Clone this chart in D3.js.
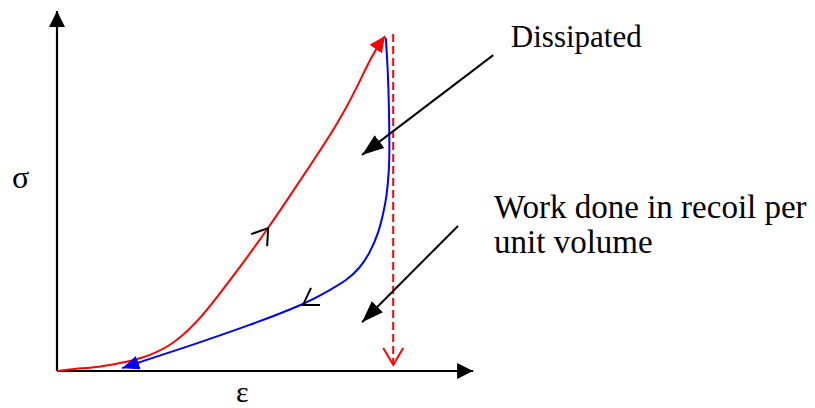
<!DOCTYPE html>
<html>
<head>
<meta charset="utf-8">
<script src="https://cdn.jsdelivr.net/npm/d3@7"></script>
<style>
  html, body { margin: 0; padding: 0; background: #fff; }
  svg text { font-family: "Liberation Serif", "DejaVu Serif", serif; }
</style>
</head>
<body>
<div id="chart"></div>
<script>
// loading curve (strain, stress), arbitrary units
var loadStrain = [0, 3.9, 10.5, 15.4, 20.2, 27.6, 34.1, 39.8, 45.4, 51.5, 56.1, 61.7, 69.0, 73.2, 77.1, 80.0];
var loadStress = [0, 0.6, 1.1, 2.2, 3.3, 6.7, 13.4, 21.7, 30.1, 39.8, 47.6, 57.1, 69.9, 79.1, 88.6, 93.3];
// unloading (recoil) curve
var unloadStrain = [80.2, 80.7, 81.0, 81.1, 81.0, 80.4, 79.6, 78.4, 76.3, 73.9, 70.7, 66.6, 60.0, 47.1, 32.4, 20.2, 15.9];
var unloadStress = [92.8, 83.8, 72.7, 61.6, 56.0, 48.5, 44.0, 38.4, 32.9, 28.7, 25.3, 22.6, 18.4, 12.8, 7.0, 2.5, 0.8];
// dashed drop at max strain
var dropStrain = 82.0;
var dropStress = [93.9, 1.7];
// direction ticks on the curves
var loadTick = [51.5, 39.8];
var unloadTick = [60.0, 18.4];
// labels and pointer arrows
var labels = ["Dissipated", "Work done in recoil per", "unit volume"];
var labelSize = [31, 33, 33];
var labelPos = [[110.7, 90.3], [106.6, 42.6], [106.6, 32.9]];
var pointers = [[[106.4, 88.0], [74.4, 60.2]], [[97.8, 40.4], [74.4, 13.6]]];

function init() {
  var w = 815, h = 408;

  var xScale = d3.scaleLinear().domain([0, 100]).range([57, 467]);
  var yScale = d3.scaleLinear().domain([0, 100]).range([371, 12]);

  var svg = d3.select("#chart").append("svg")
    .attr("width", w).attr("height", h);

  svg.append("rect").attr("width", w).attr("height", h).attr("fill", "#fff");

  var defs = svg.append("defs");
  function marker(id, color, len, wid) {
    defs.append("marker")
      .attr("id", id)
      .attr("markerUnits", "userSpaceOnUse")
      .attr("viewBox", "0 0 " + len + " " + wid)
      .attr("refX", len).attr("refY", wid / 2)
      .attr("markerWidth", len).attr("markerHeight", wid)
      .attr("orient", "auto")
      .append("path")
      .attr("d", "M0,0L" + len + "," + (wid / 2) + "L0," + wid + "Z")
      .attr("fill", color);
  }
  marker("axisHead", "#000", 16, 16);
  marker("redHead", "#f00", 16, 15);
  marker("blueHead", "#00f", 17, 14);
  marker("blackHead", "#000", 22, 16);

  var line = d3.line()
    .x(function(d) { return xScale(d[0]); })
    .y(function(d) { return yScale(d[1]); })
    .curve(d3.curveBasis);

  // axes
  svg.append("line")
    .attr("x1", xScale(0)).attr("y1", yScale(0))
    .attr("x2", xScale(0)).attr("y2", yScale(100) - 1)
    .attr("stroke", "#000").attr("stroke-width", 2.2)
    .attr("marker-end", "url(#axisHead)");
  svg.append("line")
    .attr("x1", xScale(0)).attr("y1", yScale(0))
    .attr("x2", xScale(101.5)).attr("y2", yScale(0))
    .attr("stroke", "#000").attr("stroke-width", 2.2)
    .attr("marker-end", "url(#axisHead)");

  // loading curve
  var loadData = loadStrain.map(function(s, i) { return [s, loadStress[i]]; });
  svg.append("path")
    .datum(loadData)
    .attr("d", line)
    .attr("fill", "none").attr("stroke", "#f00").attr("stroke-width", 2)
    .attr("marker-end", "url(#redHead)");

  // unloading curve
  var unloadData = unloadStrain.map(function(s, i) { return [s, unloadStress[i]]; });
  svg.append("path")
    .datum(unloadData)
    .attr("d", line)
    .attr("fill", "none").attr("stroke", "#00f").attr("stroke-width", 2)
    .attr("marker-end", "url(#blueHead)");

  // dashed drop with open head
  var dx = xScale(dropStrain);
  var dyEnd = yScale(dropStress[1]);
  svg.append("line")
    .attr("x1", dx).attr("y1", yScale(dropStress[0]))
    .attr("x2", dx).attr("y2", dyEnd)
    .attr("stroke", "#f00").attr("stroke-width", 2)
    .attr("stroke-dasharray", "8,4");
  svg.append("path")
    .attr("d", "M" + (dx - 10) + "," + (dyEnd - 17) +
               "L" + dx + "," + dyEnd +
               "L" + (dx + 10) + "," + (dyEnd - 17))
    .attr("fill", "none").attr("stroke", "#f00").attr("stroke-width", 2);

  // direction ticks
  svg.append("path")
    .attr("transform", "translate(" + xScale(loadTick[0]) + "," + yScale(loadTick[1]) + ")")
    .attr("d", "M-17,6L0,0L-1,18")
    .attr("fill", "none").attr("stroke", "#000").attr("stroke-width", 2);
  svg.append("path")
    .attr("transform", "translate(" + xScale(unloadTick[0]) + "," + yScale(unloadTick[1]) + ")")
    .attr("d", "M8,-17L0,0L17,0")
    .attr("fill", "none").attr("stroke", "#000").attr("stroke-width", 2);

  // pointer arrows
  svg.selectAll("line.pointer")
    .data(pointers)
    .enter().append("line")
    .attr("class", "pointer")
    .attr("x1", function(d) { return xScale(d[0][0]); })
    .attr("y1", function(d) { return yScale(d[0][1]); })
    .attr("x2", function(d) { return xScale(d[1][0]); })
    .attr("y2", function(d) { return yScale(d[1][1]); })
    .attr("stroke", "#000").attr("stroke-width", 2)
    .attr("marker-end", "url(#blackHead)");

  // labels
  svg.selectAll("text.label")
    .data(labels)
    .enter().append("text")
    .attr("class", "label")
    .attr("x", function(d, i) { return xScale(labelPos[i][0]); })
    .attr("y", function(d, i) { return yScale(labelPos[i][1]); })
    .attr("font-size", function(d, i) { return labelSize[i]; })
    .attr("fill", "#000")
    .text(function(d) { return d; });

  // axis titles
  svg.append("text").attr("x", 12).attr("y", 188)
    .attr("font-size", 32).text("σ");
  svg.append("text").attr("x", 236).attr("y", 402)
    .attr("font-size", 30).text("ε");
}

window.onload = init;
</script>
</body>
</html>
